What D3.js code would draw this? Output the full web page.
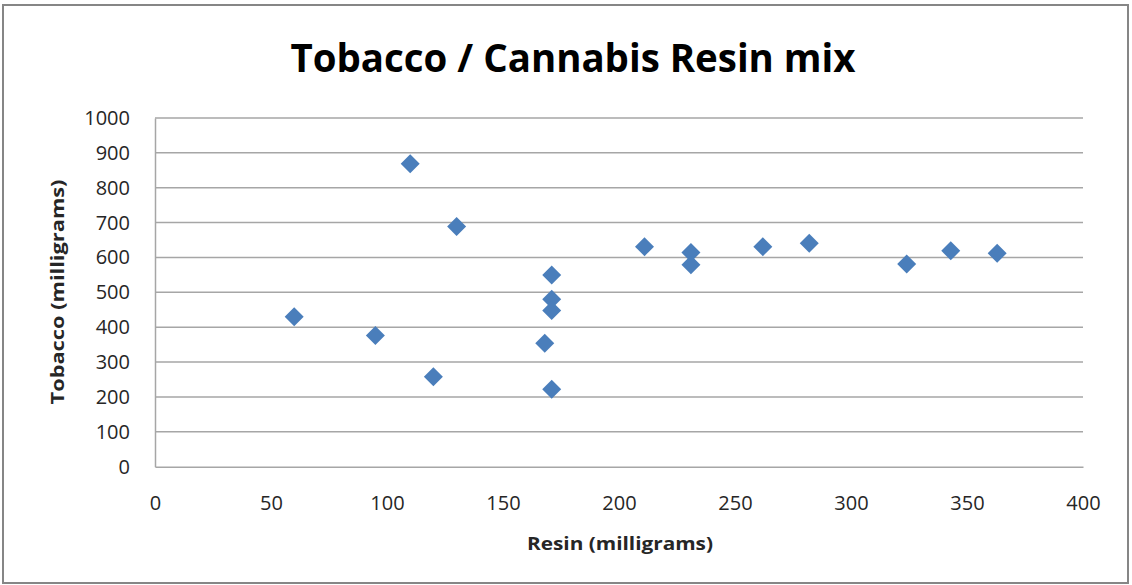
<!DOCTYPE html>
<html>
<head>
<meta charset="utf-8">
<script src="https://cdn.jsdelivr.net/npm/d3@7"></script>
<style>
  body { margin: 0; background: #fff; }
  svg { display: block; }
</style>
</head>
<body>
<div id="chart"></div>
<script>
// resin (mg) and tobacco (mg) per sample
const resin   = [60, 95, 110, 130, 120, 171, 171, 171, 168, 171, 211, 231, 231, 262, 282, 324, 343, 363];
const tobacco = [430, 376, 869, 689, 258, 550, 480, 448, 354, 222, 631, 614, 579, 631, 641, 581, 619, 612];
const xTicks = [0, 50, 100, 150, 200, 250, 300, 350, 400];
const yTicks = [0, 100, 200, 300, 400, 500, 600, 700, 800, 900, 1000];

const width = 1132, height = 585;
const margin = { left: 155, right: 49, top: 118, bottom: 118 };

const svg = d3.select("#chart").append("svg")
    .attr("width", width)
    .attr("height", height);

// outer frame
svg.append("rect")
    .attr("x", 3).attr("y", 5)
    .attr("width", 1125).attr("height", 578)
    .attr("fill", "#fff")
    .attr("stroke", "#868686")
    .attr("stroke-width", 2);

const x = d3.scaleLinear().domain([0, 400]).range([margin.left, width - margin.right]);
const y = d3.scaleLinear().domain([0, 1000]).range([466.7, margin.top]);

// gridlines
svg.append("g")
    .selectAll("line")
    .data(yTicks.filter(d => d > 0))
    .enter().append("line")
    .attr("x1", x(0)).attr("x2", x(400))
    .attr("y1", d => y(d)).attr("y2", d => y(d))
    .attr("stroke", "#a6a6a6")
    .attr("stroke-width", 1.5);

// axes
const xAxis = svg.append("g")
    .attr("transform", `translate(0,${y(0)})`)
    .call(d3.axisBottom(x).tickValues(xTicks).tickFormat(d3.format("d")).tickSize(0).tickPadding(37));
const yAxis = svg.append("g")
    .attr("transform", `translate(${x(0)},0)`)
    .call(d3.axisLeft(y).tickValues(yTicks).tickFormat(d3.format("d")).tickSize(0).tickPadding(25));

[xAxis, yAxis].forEach(ax => {
    ax.select(".domain").attr("stroke", "#a6a6a6").attr("stroke-width", 1.5);
    ax.selectAll("text")
        .attr("font-family", "'Open Sans', sans-serif")
        .attr("font-size", 20)
        .attr("fill", "#262626");
});
xAxis.selectAll("text").attr("dy", "0.3em");

// points
const diamond = d3.symbol().type(d3.symbolDiamond2).size(230);
svg.append("g")
    .selectAll("path")
    .data(resin.map((r, i) => [r, tobacco[i]]))
    .enter().append("path")
    .attr("d", diamond)
    .attr("transform", d => `translate(${x(d[0])},${y(d[1])})`)
    .attr("fill", "#4a7ebb");

// title
svg.append("text")
    .attr("x", 573).attr("y", 72)
    .attr("text-anchor", "middle")
    .attr("font-family", "'Open Sans', sans-serif")
    .attr("font-weight", "bold")
    .attr("font-size", 40)
    .attr("textLength", 565)
    .attr("lengthAdjust", "spacingAndGlyphs")
    .text("Tobacco / Cannabis Resin mix");

// axis titles
svg.append("text")
    .attr("x", 620).attr("y", 550)
    .attr("text-anchor", "middle")
    .attr("font-family", "'Open Sans', sans-serif")
    .attr("font-weight", "bold")
    .attr("font-size", 18)
    .attr("textLength", 186)
    .attr("lengthAdjust", "spacingAndGlyphs")
    .attr("fill", "#262626")
    .text("Resin (milligrams)");

svg.append("text")
    .attr("transform", "translate(64,292) rotate(-90)")
    .attr("text-anchor", "middle")
    .attr("font-family", "'Open Sans', sans-serif")
    .attr("font-weight", "bold")
    .attr("font-size", 18)
    .attr("textLength", 225)
    .attr("lengthAdjust", "spacingAndGlyphs")
    .attr("fill", "#262626")
    .text("Tobacco (milligrams)");
</script>
</body>
</html>
